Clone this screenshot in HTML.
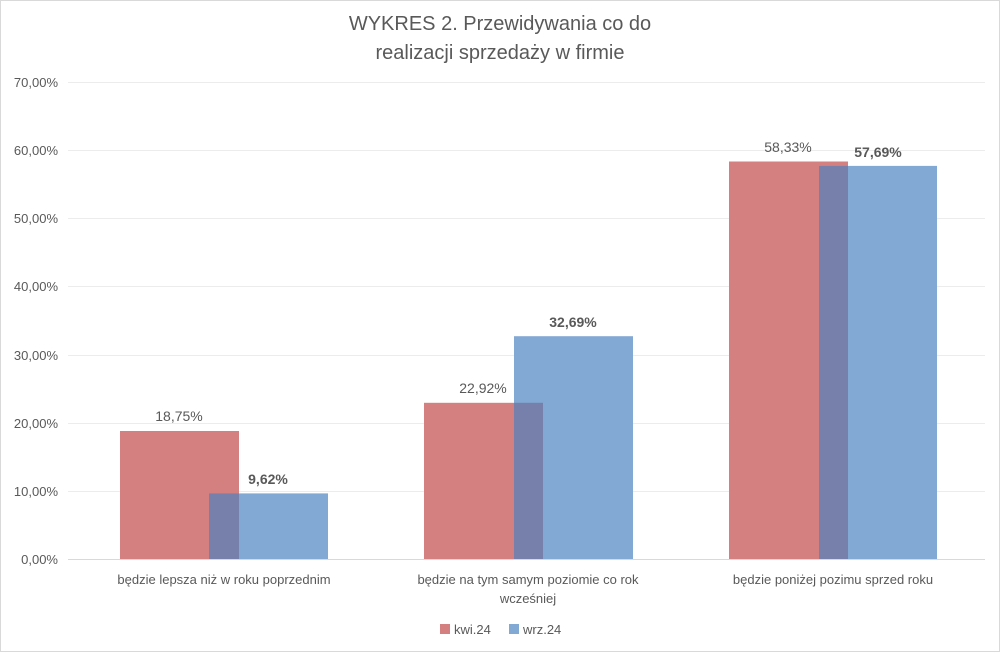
<!DOCTYPE html>
<html><head><meta charset="utf-8"><style>
body{margin:0;background:#fff}
svg{display:block}
text{font-family:"Liberation Sans",sans-serif;fill:#595959}
</style></head><body>
<svg width="1000" height="652" viewBox="0 0 1000 652">
<rect x="0.5" y="0.5" width="999" height="651" fill="#fff" stroke="#d9d9d9"/>
<text x="500" y="30" font-size="20" text-anchor="middle">WYKRES 2. Przewidywania co do</text>
<text x="500" y="59" font-size="20" text-anchor="middle">realizacji sprzedaży w firmie</text>
<g stroke="#ececec" stroke-width="1">
<line x1="68" x2="985" y1="82.5" y2="82.5"/><line x1="68" x2="985" y1="150.5" y2="150.5"/>
<line x1="68" x2="985" y1="218.5" y2="218.5"/><line x1="68" x2="985" y1="286.5" y2="286.5"/>
<line x1="68" x2="985" y1="355.5" y2="355.5"/><line x1="68" x2="985" y1="423.5" y2="423.5"/>
<line x1="68" x2="985" y1="491.5" y2="491.5"/>
</g>
<g font-size="13" text-anchor="end">
<text x="58" y="87">70,00%</text><text x="58" y="155">60,00%</text><text x="58" y="223">50,00%</text>
<text x="58" y="291">40,00%</text><text x="58" y="360">30,00%</text><text x="58" y="428">20,00%</text>
<text x="58" y="496">10,00%</text><text x="58" y="564">0,00%</text>
</g>
<!-- group 1 -->
<rect x="120" y="431" width="119" height="128" fill="#d47f80"/>
<rect x="209" y="493.4" width="119" height="65.6" fill="#82a8d4"/>
<rect x="209" y="493.4" width="30" height="65.6" fill="#7780aa"/>
<!-- group 2 -->
<rect x="424" y="402.8" width="119" height="156.2" fill="#d47f80"/>
<rect x="514" y="336.2" width="119" height="222.8" fill="#82a8d4"/>
<rect x="514" y="402.8" width="29" height="156.2" fill="#7780aa"/>
<!-- group 3 -->
<rect x="729" y="161.5" width="119" height="397.5" fill="#d47f80"/>
<rect x="819" y="165.9" width="118" height="393.1" fill="#82a8d4"/>
<rect x="819" y="165.9" width="29" height="393.1" fill="#7780aa"/>
<line x1="68" x2="985" y1="559.5" y2="559.5" stroke="#d9d9d9"/>
<g font-size="14" text-anchor="middle">
<text x="179" y="421">18,75%</text>
<text x="268" y="484" font-weight="bold" fill="#404040">9,62%</text>
<text x="483" y="393">22,92%</text>
<text x="573" y="327" font-weight="bold" fill="#404040">32,69%</text>
<text x="788" y="152">58,33%</text>
<text x="878" y="157" font-weight="bold" fill="#404040">57,69%</text>
</g>
<g font-size="13" text-anchor="middle">
<text x="224" y="584">będzie lepsza niż w roku poprzednim</text>
<text x="528" y="584">będzie na tym samym poziomie co rok</text>
<text x="528" y="603">wcześniej</text>
<text x="833" y="584">będzie poniżej pozimu sprzed roku</text>
</g>
<rect x="440" y="624" width="10" height="10" fill="#d47f80"/>
<text x="454" y="634" font-size="13">kwi.24</text>
<rect x="509" y="624" width="10" height="10" fill="#82a8d4"/>
<text x="523" y="634" font-size="13">wrz.24</text>
</svg>
</body></html>
